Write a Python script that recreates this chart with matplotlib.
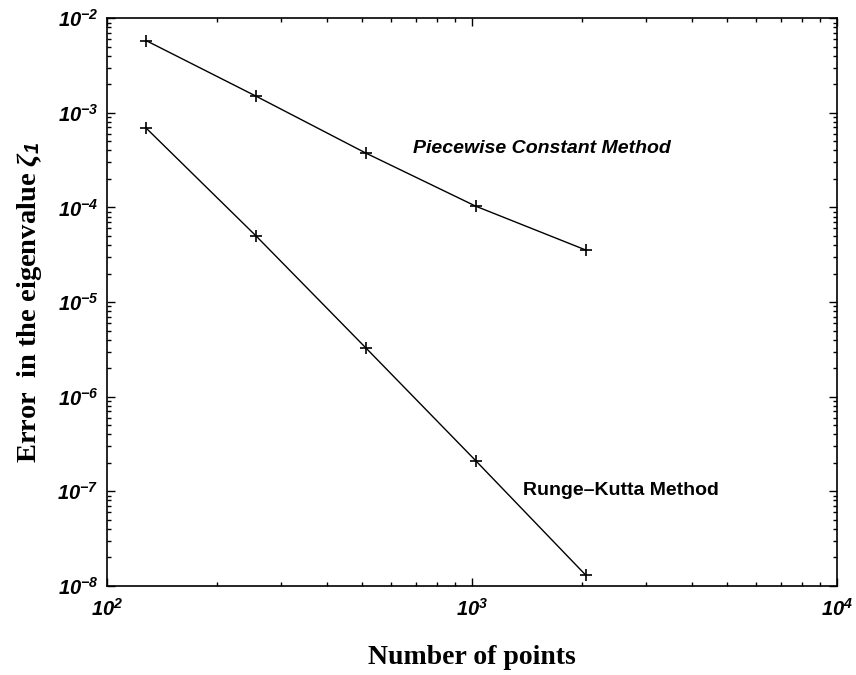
import matplotlib
matplotlib.use("Agg")
import matplotlib.pyplot as plt
from matplotlib.ticker import FuncFormatter, LogLocator, NullFormatter
import numpy as np

# данные с графика
n_points = [128, 256, 512, 1024, 2048]
err_piecewise = [5.8e-3, 1.5e-3, 3.75e-4, 1.03e-4, 3.55e-5]
err_runge_kutta = [6.9e-4, 5.0e-5, 3.27e-6, 2.1e-7, 1.3e-8]

plt.rcParams['mathtext.fontset'] = 'custom'
plt.rcParams['mathtext.rm'] = 'Liberation Sans:bold:italic'
plt.rcParams['mathtext.it'] = 'Liberation Serif:bold:italic'
plt.rcParams['mathtext.bf'] = 'Liberation Serif:bold'

fig = plt.figure(figsize=(8.56, 6.75), dpi=100)
ax = fig.add_axes([0.125, 0.132, 0.853, 0.841])

ax.loglog(n_points, err_piecewise, color='black', lw=1.0, marker='+',
          markersize=9, markeredgewidth=1.2)
ax.loglog(n_points, err_runge_kutta, color='black', lw=1.0, marker='+',
          markersize=9, markeredgewidth=1.2)

ax.set_xlim(1e2, 1e4)
ax.set_ylim(1e-8, 1e-2)

ax.xaxis.set_major_locator(LogLocator(base=10, numticks=10))
ax.yaxis.set_major_locator(LogLocator(base=10, numticks=10))
ax.xaxis.set_minor_locator(LogLocator(base=10, subs=np.arange(2, 10), numticks=10))
ax.yaxis.set_minor_locator(LogLocator(base=10, subs=np.arange(2, 10), numticks=10))
ax.xaxis.set_minor_formatter(NullFormatter())
ax.yaxis.set_minor_formatter(NullFormatter())


def fmt(v, pos):
    e = int(round(np.log10(v)))
    return r'$\mathrm{10^{%d}}$' % e


ax.xaxis.set_major_formatter(FuncFormatter(fmt))
ax.yaxis.set_major_formatter(FuncFormatter(fmt))

ax.tick_params(which='both', direction='in', top=True, right=True,
               labelsize=14.5, width=1.0)
ax.tick_params(which='major', length=6, pad=6)
ax.tick_params(axis='x', which='major', pad=9)
ax.tick_params(which='minor', length=3)
for s in ax.spines.values():
    s.set_linewidth(1.2)

ax.set_xlabel('Number of points', family='Liberation Serif', weight='bold',
              fontsize=20, labelpad=18)
ax.set_ylabel(r'Error  in the eigenvalue $\zeta_1$', family='Liberation Serif',
              weight='bold', fontsize=20.5, labelpad=10)

ax.text(690, 4.2e-4, 'Piecewise Constant Method', family='Liberation Sans',
        weight='bold', style='italic', fontsize=14, ha='left', va='center')
ax.text(1380, 1.03e-7, 'Runge\u2013Kutta Method', family='Liberation Sans',
        weight='bold', fontsize=14, ha='left', va='center')

fig.savefig('out.png', dpi=100)
